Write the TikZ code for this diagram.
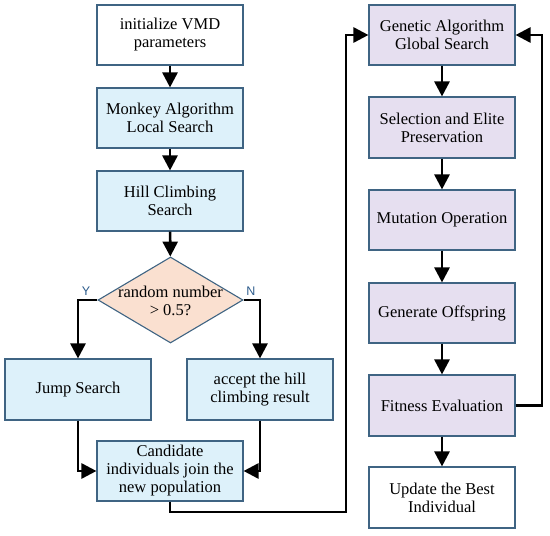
\documentclass[tikz,border=0pt]{standalone}
\usepackage{fontspec}
\setmainfont{Liberation Serif}
\setsansfont{Liberation Sans}
\usetikzlibrary{shapes.geometric,arrows.meta}
\definecolor{bfill}{HTML}{DDF1FA}
\definecolor{pfill}{HTML}{E6DFF0}
\definecolor{dfill}{HTML}{FAE0D0}
\definecolor{edge}{HTML}{3F6483}
\definecolor{lbl}{HTML}{2D5C8C}
\tikzset{
  box/.style={draw=edge, line width=1.1pt, minimum width=146pt, minimum height=60pt, inner sep=2pt, align=center, font=\fontsize{16.5}{18}\selectfont},
  bluebox/.style={box, fill=bfill},
  purplebox/.style={box, fill=pfill},
  whitebox/.style={box, fill=white},
  dia/.style={diamond, draw=edge, line width=1.1pt, fill=dfill, minimum width=145pt, minimum height=86pt, inner sep=0pt},
  flow/.style={line width=2.6pt, -{Triangle[length=15pt,width=15pt]}},
  yn/.style={font=\sffamily\fontsize{12.5}{13}\selectfont, text=lbl}
}
\begin{document}
\begin{tikzpicture}[x=1pt,y=-1pt]
\useasboundingbox (0,0) rectangle (550,536);
\node[whitebox] (init) at (170,35) {initialize VMD\\parameters};
\node[bluebox] (monkey) at (170,118) {Monkey Algorithm\\Local Search};
\node[bluebox] (hill) at (170,201) {Hill Climbing\\Search};
\node[dia] (dec) at (170.5,300) {};
\node[align=center, font=\fontsize{16.5}{18}\selectfont] (dectext) at (170.5,301) {random number\\> 0.5?};
\node[bluebox, minimum height=61pt] (jump) at (78,389.5) {Jump Search};
\node[bluebox, minimum height=61pt] (accept) at (260,389.5) {accept the hill\\climbing result};
\node[bluebox] (cand) at (170,471) {Candidate\\individuals join the\\new population};
\node[purplebox] (ga) at (442,35) {Genetic Algorithm\\Global Search};
\node[purplebox, minimum height=61pt] (sel) at (442,127.5) {Selection and Elite\\Preservation};
\node[purplebox] (mut) at (442,220) {Mutation Operation};
\node[purplebox] (gen) at (442,313) {Generate Offspring};
\node[purplebox, minimum height=61pt] (fit) at (442,405.5) {Fitness Evaluation};
\node[whitebox, minimum height=61pt] (upd) at (442,497.5) {Update the Best\\Individual};
\node[yn] (ylab) at (86,291) {Y};
\node[yn] (nlab) at (251,291) {N};
\coordinate (c1) at (170,512);
\coordinate (c2) at (346,512);
\coordinate (c3) at (346,35);
\coordinate (f1) at (542,405.5);
\coordinate (f2) at (542,35);
\draw[flow] (init) -- (monkey);
\draw[flow] (monkey) -- (hill);
\draw[flow] (hill) -- (dec);
\draw[flow] (dec.west) -| (jump.north);
\draw[flow] (dec.east) -| (accept.north);
\draw[flow] (jump.south) |- (cand.west);
\draw[flow] (accept.south) |- (cand.east);
\draw[flow] (cand.south) -- (c1) -- (c2) -- (c3) -- (ga.west);
\draw[flow] (ga) -- (sel);
\draw[flow] (sel) -- (mut);
\draw[flow] (mut) -- (gen);
\draw[flow] (gen) -- (fit);
\draw[flow] (fit) -- (upd);
\draw[flow] (fit.east) -- (f1) -- (f2) -- (ga.east);
\end{tikzpicture}
\end{document}
